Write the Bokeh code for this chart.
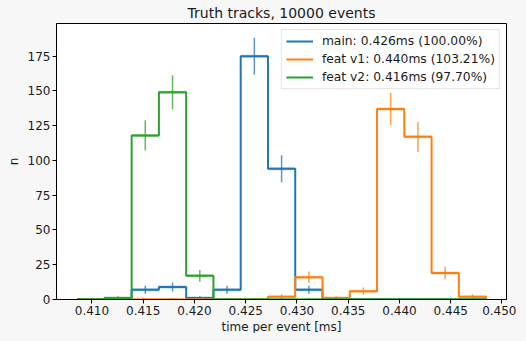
import numpy as np
from bokeh.plotting import figure
from bokeh.models import FixedTicker, CustomJSTickFormatter, Legend, LegendItem, Range1d, Title
from bokeh.embed import file_html
from bokeh.resources import INLINE

# ---- data ----
bin_edges = [0.40855, 0.41121, 0.41387, 0.41653, 0.41919, 0.42185, 0.42451, 0.42717,
             0.42983, 0.43249, 0.43515, 0.43781, 0.44047, 0.44313, 0.44579, 0.44845]
main_counts = [0, 0, 7, 9, 1, 7, 175, 94, 7, 0, 0, 0, 0, 0, 0]
feat_v1_counts = [0, 0, 0, 0, 0, 0, 0, 2, 16, 1, 6, 137, 117, 19, 2]
feat_v2_counts = [0, 1, 118, 149, 17, 0, 0, 0, 0, 0, 0, 0, 0, 0, 0]
series_labels = ["main: 0.426ms (100.00%)", "feat v1: 0.440ms (103.21%)", "feat v2: 0.416ms (97.70%)"]
series_colors = ["#1f77b4", "#ff7f0e", "#2ca02c"]
x_ticks = [0.410, 0.415, 0.420, 0.425, 0.430, 0.435, 0.440, 0.445, 0.450]
y_ticks = [0, 25, 50, 75, 100, 125, 150, 175]

FONT = "DejaVu Sans"
BG = "#f7f7f7"
TXT = "#1a1a1a"

p = figure(frame_width=450, frame_height=276, output_backend="svg", toolbar_location=None,
           x_range=Range1d(0.40654, 0.45044), y_range=Range1d(0, 198.5),
           min_border_left=50, min_border_right=10, min_border_top=0, min_border_bottom=0,
           title="Truth tracks, 10000 events")
p.background_fill_color = "white"
p.border_fill_color = BG
p.outline_line_color = "black"
p.outline_line_width = 1
p.xgrid.visible = False
p.ygrid.visible = False

p.title.align = "center"
p.title.text_font = FONT
p.title.text_font_size = "14px"
p.title.text_font_style = "normal"
p.title.text_color = TXT
p.title.standoff = 5

for ax in (p.xaxis[0], p.yaxis[0]):
    ax.major_label_text_font = FONT
    ax.major_label_text_font_size = "12px"
    ax.major_label_text_color = TXT
    ax.major_tick_out = 4
    ax.major_tick_in = 0
    ax.minor_tick_out = 0
    ax.minor_tick_in = 0
    ax.axis_line_color = "black"
    ax.major_tick_line_color = "black"
    ax.major_label_standoff = 2

p.xaxis[0].ticker = FixedTicker(ticks=x_ticks)
p.xaxis[0].formatter = CustomJSTickFormatter(code="return tick.toFixed(3);")
p.yaxis[0].ticker = FixedTicker(ticks=y_ticks)

xlab = Title(text="time per event [ms]", align="center", text_font=FONT, text_font_size="12px",
             text_font_style="normal", text_color=TXT, standoff=0, offset=0)
p.add_layout(xlab, "below")
ylab = Title(text="n", align="center", text_font=FONT, text_font_size="12px",
             text_font_style="normal", text_color=TXT, standoff=8)
p.add_layout(ylab, "left")

edges = np.array(bin_edges)
centers = (edges[:-1] + edges[1:]) / 2
items = []
for counts, label, color in zip([main_counts, feat_v1_counts, feat_v2_counts], series_labels, series_colors):
    c = np.array(counts, dtype=float)
    xs = [edges[0]]
    ys = [0.0]
    for i in range(len(c)):
        xs += [edges[i], edges[i + 1]]
        ys += [c[i], c[i]]
    xs.append(edges[-1])
    ys.append(0.0)
    r = p.line(xs, ys, line_color=color, line_width=2)
    err = np.sqrt(c + 1)
    p.segment(x0=centers, y0=c - err, x1=centers, y1=c + err, line_color=color, line_width=1.5, line_alpha=0.75)
    p.segment(x0=edges[:-1], y0=c, x1=edges[1:], y1=c, line_color=color, line_width=3, line_alpha=0.35)
    items.append(LegendItem(label=label, renderers=[r]))

legend = Legend(items=items, location="top_right")
legend.label_text_font = FONT
legend.label_text_font_size = "12.3px"
legend.label_text_color = TXT
legend.glyph_width = 27
legend.glyph_height = 14
legend.label_standoff = 9
legend.label_height = 14
legend.spacing = 4
legend.padding = 4
legend.margin = 6
legend.border_line_color = "#cccccc"
legend.background_fill_color = "white"
legend.background_fill_alpha = 0.8
p.add_layout(legend)

html = file_html(p, INLINE)
html = html.replace("<head>", "<head><style>body{background:%s;}</style>" % BG, 1)
open("out.html", "w").write(html)
